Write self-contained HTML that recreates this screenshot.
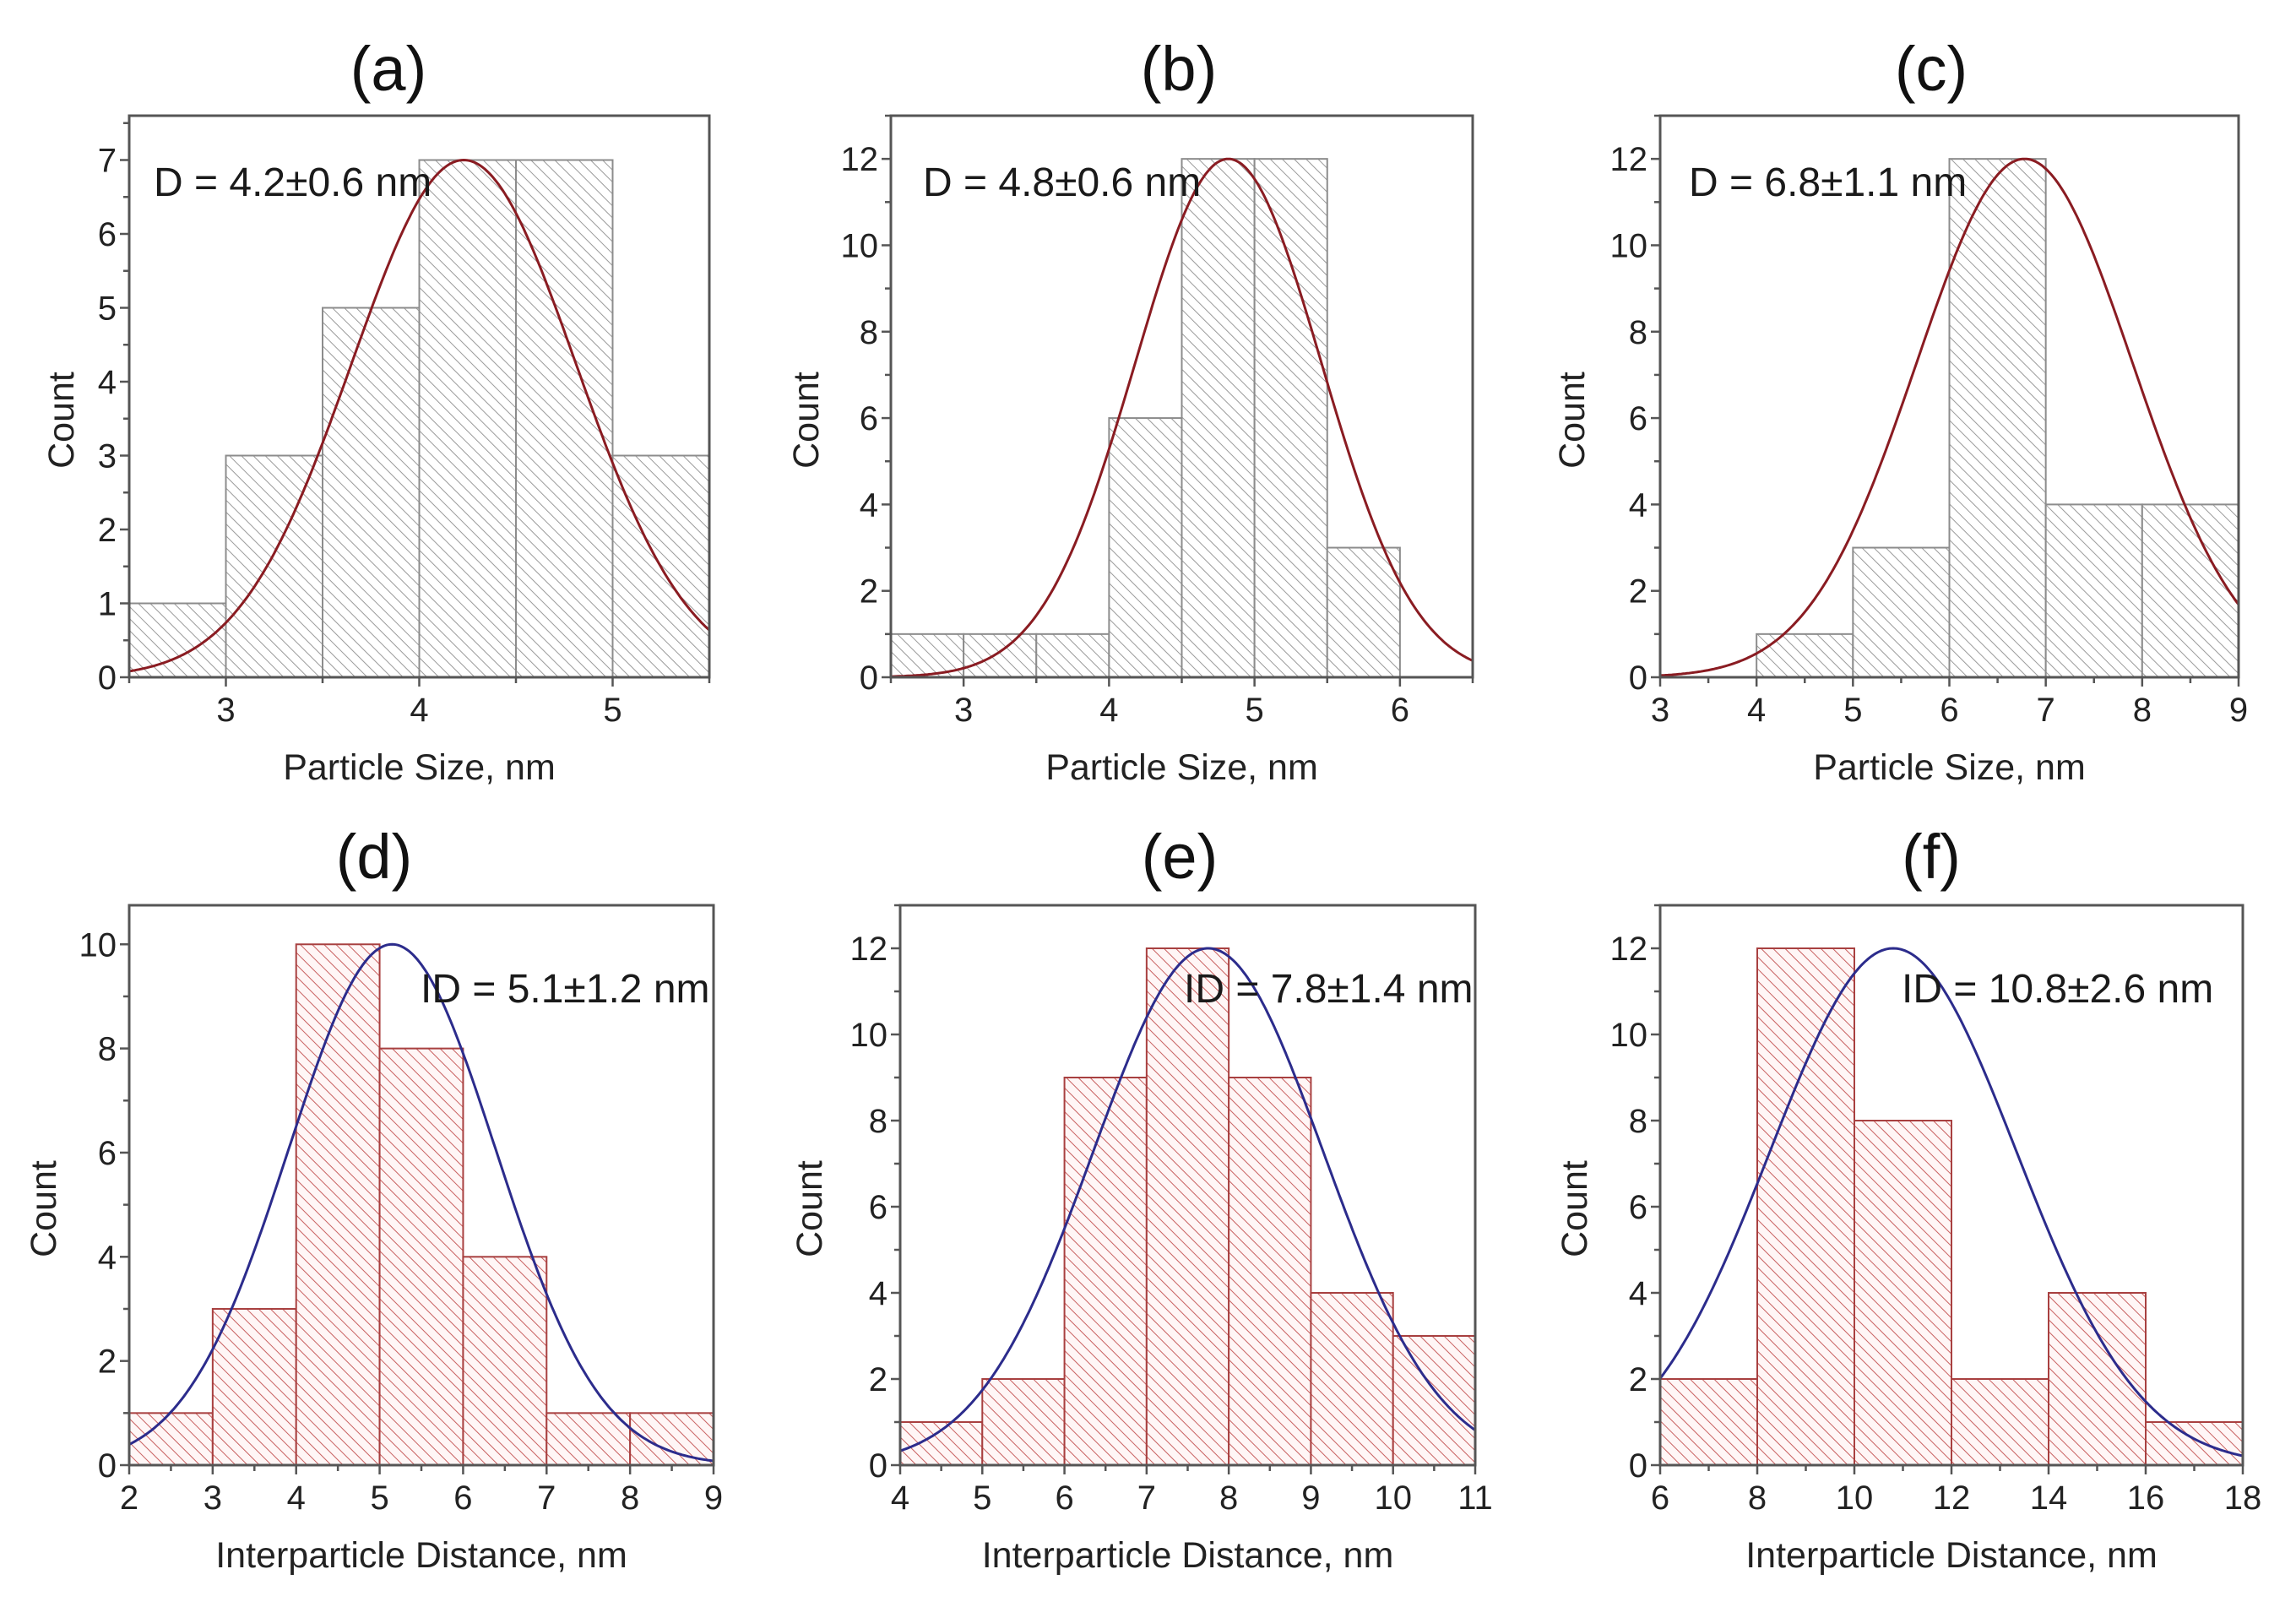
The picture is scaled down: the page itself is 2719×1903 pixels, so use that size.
<!DOCTYPE html>
<html><head><meta charset="utf-8">
<style>
html,body{margin:0;padding:0;background:#fff;}
svg{display:block;font-family:"Liberation Sans",Arial,sans-serif;}
</style></head>
<body>
<svg id="fig" width="2719" height="1903" viewBox="0 0 2719 1903" xmlns="http://www.w3.org/2000/svg">
<defs>
<pattern id="hatchGray" patternUnits="userSpaceOnUse" width="10" height="10" patternTransform="rotate(-45)">
<rect width="10" height="10" fill="#fff"/><line x1="0" y1="0" x2="0" y2="10" stroke="#9a9a9a" stroke-width="2"/></pattern>
<pattern id="hatchRed" patternUnits="userSpaceOnUse" width="10" height="10" patternTransform="rotate(-45)">
<rect width="10" height="10" fill="#fff6f6"/><line x1="0" y1="0" x2="0" y2="10" stroke="#c86060" stroke-width="2"/></pattern>
</defs>
</svg>
<script>
// ---- data (per panel) ----
const binsA = [2.5,3,3.5,4,4.5,5,5.5];
const countsA = [1,3,5,7,7,3];
const fitA = [4.23,0.58,7];
const xticksA = [3,4,5];
const yticksA = [0,1,2,3,4,5,6,7];

const binsB = [2.5,3,3.5,4,4.5,5,5.5,6];
const countsB = [1,1,1,6,12,12,3];
const fitB = [4.82,0.64,12];
const xticksB = [3,4,5,6];
const yticksB = [0,2,4,6,8,10,12];

const binsC = [4,5,6,7,8,9];
const countsC = [1,3,12,4,4];
const fitC = [6.78,1.12,12];
const xticksC = [3,4,5,6,7,8,9];
const yticksC = [0,2,4,6,8,10,12];

const binsD = [2,3,4,5,6,7,8,9];
const countsD = [1,3,10,8,4,1,1];
const fitD = [5.15,1.24,10];
const xticksD = [2,3,4,5,6,7,8,9];
const yticksD = [0,2,4,6,8,10];

const binsE = [4,5,6,7,8,9,10,11];
const countsE = [1,2,9,12,9,4,3];
const fitE = [7.75,1.40,12];
const xticksE = [4,5,6,7,8,9,10,11];
const yticksE = [0,2,4,6,8,10,12];

const binsF = [6,8,10,12,14,16,18];
const countsF = [2,12,8,2,4,1];
const fitF = [10.8,2.54,12];
const xticksF = [6,8,10,12,14,16,18];
const yticksF = [0,2,4,6,8,10,12];

const panels = [
 {id:"a",title:"(a)",bins:binsA,counts:countsA,fit:fitA,xt:xticksA,yt:yticksA,xmin:2.5,xmax:5.5,ymax:7.6,ymin:0.5,xminor:0.5,
  L:153,R:840,T:137,B:802,ann:"D = 4.2±0.6 nm",annX:182,annY:232,tx:460,ty:107,xlab:"Particle Size, nm",cx:73,row:1},
 {id:"b",title:"(b)",bins:binsB,counts:countsB,fit:fitB,xt:xticksB,yt:yticksB,xmin:2.5,xmax:6.5,ymax:13,ymin:1,xminor:0.5,
  L:1055,R:1744,T:137,B:802,ann:"D = 4.8±0.6 nm",annX:1093,annY:232,tx:1396,ty:107,xlab:"Particle Size, nm",cx:955,row:1},
 {id:"c",title:"(c)",bins:binsC,counts:countsC,fit:fitC,xt:xticksC,yt:yticksC,xmin:3,xmax:9,ymax:13,ymin:1,xminor:0.5,
  L:1966,R:2651,T:137,B:802,ann:"D = 6.8±1.1 nm",annX:2000,annY:232,tx:2287,ty:107,xlab:"Particle Size, nm",cx:1862,row:1},
 {id:"d",title:"(d)",bins:binsD,counts:countsD,fit:fitD,xt:xticksD,yt:yticksD,xmin:2,xmax:9,ymax:10.75,ymin:1,xminor:0.5,
  L:153,R:845,T:1072,B:1735,ann:"ID = 5.1±1.2 nm",annX:498,annY:1187,tx:443,ty:1040,xlab:"Interparticle Distance, nm",cx:52,row:2},
 {id:"e",title:"(e)",bins:binsE,counts:countsE,fit:fitE,xt:xticksE,yt:yticksE,xmin:4,xmax:11,ymax:13,ymin:1,xminor:0.5,
  L:1066,R:1747,T:1072,B:1735,ann:"ID = 7.8±1.4 nm",annX:1402,annY:1187,tx:1397,ty:1040,xlab:"Interparticle Distance, nm",cx:959,row:2},
 {id:"f",title:"(f)",bins:binsF,counts:countsF,fit:fitF,xt:xticksF,yt:yticksF,xmin:6,xmax:18,ymax:13,ymin:1,xminor:1,
  L:1966,R:2656,T:1072,B:1735,ann:"ID = 10.8±2.6 nm",annX:2252,annY:1187,tx:2287,ty:1040,xlab:"Interparticle Distance, nm",cx:1865,row:2}
];

const NS="http://www.w3.org/2000/svg";
const svg=document.getElementById("fig");
function mk(tag,attrs,parent){const e=document.createElementNS(NS,tag);for(const k in attrs)e.setAttribute(k,attrs[k]);(parent||svg).appendChild(e);return e;}

panels.forEach(p=>{
  const g=mk("g",{});
  
  
  const sx=v=>p.L+(v-p.xmin)/(p.xmax-p.xmin)*(p.R-p.L);
  const sy=v=>p.B-v/p.ymax*(p.B-p.T);
  const red=p.row===2;
  for(let i=0;i<p.counts.length;i++){
    if(p.counts[i]<=0) continue;
    const x0=sx(p.bins[i]),x1=sx(p.bins[i+1]),y=sy(p.counts[i]);
    const r=mk("rect",{x:x0,y:y,width:x1-x0,height:p.B-y,fill:red?"url(#hatchRed)":"url(#hatchGray)",stroke:red?"#a84040":"#8c8c8c","stroke-width":2},g);
    
    
  }
  const [mu,s,A]=p.fit;let d="";
  const n=300;
  for(let k=0;k<=n;k++){const x=p.xmin+(p.xmax-p.xmin)*k/n;const y=A*Math.exp(-(x-mu)*(x-mu)/(2*s*s));d+=(k?"L":"M")+sx(x).toFixed(1)+","+sy(y).toFixed(1);}
  const c=mk("path",{d:d,fill:"none",stroke:red?"#2c2c8c":"#8a1c22","stroke-width":3},g);
  
  
  const fr=mk("rect",{x:p.L,y:p.T,width:p.R-p.L,height:p.B-p.T,fill:"none",stroke:"#555","stroke-width":3},g);
  
  
  for(let v=0;v<=p.ymax+1e-9;v+=p.ymin/1){
    const major=p.yt.some(t=>Math.abs(t-v)<1e-9);
    mk("line",{x1:p.L-(major?11:7),x2:p.L,y1:sy(v),y2:sy(v),stroke:"#555","stroke-width":2.5},g);
  }
  p.yt.forEach(v=>{
    const t=mk("text",{x:p.L-15,y:sy(v)+14,"text-anchor":"end","font-size":40,fill:"#222"},g);
    t.textContent=v;
    
    
  });
  for(let v=p.xmin;v<=p.xmax+1e-9;v+=p.xminor){
    const major=p.xt.some(t=>Math.abs(t-v)<1e-9);
    mk("line",{x1:sx(v),x2:sx(v),y1:p.B,y2:p.B+(major?11:7),stroke:"#555","stroke-width":2.5},g);
  }
  p.xt.forEach(v=>{
    const t=mk("text",{x:sx(v),y:p.B+52,"text-anchor":"middle","font-size":40,fill:"#222"},g);
    t.textContent=v;
    
    
  });
  const ti=mk("text",{x:p.tx,y:p.ty,"text-anchor":"middle","font-size":74,fill:"#111"},g);
  ti.textContent=p.title;
  
  
  const an=mk("text",{x:p.annX,y:p.annY,"font-size":48,fill:"#1a1a1a"},g);
  an.textContent=p.ann;
  
  
  const xl=mk("text",{x:(p.L+p.R)/2,y:p.B+121,"text-anchor":"middle","font-size":43,fill:"#222"},g);
  xl.textContent=p.xlab;
  
  
  const cy=(p.T+p.B)/2+28;
  const yl=mk("text",{x:p.cx,y:cy,"text-anchor":"middle","dominant-baseline":"central","font-size":43,fill:"#222",transform:"rotate(-90 "+p.cx+" "+cy+")"},g);
  yl.textContent="Count";
  
  
});
</script>
</body></html>
